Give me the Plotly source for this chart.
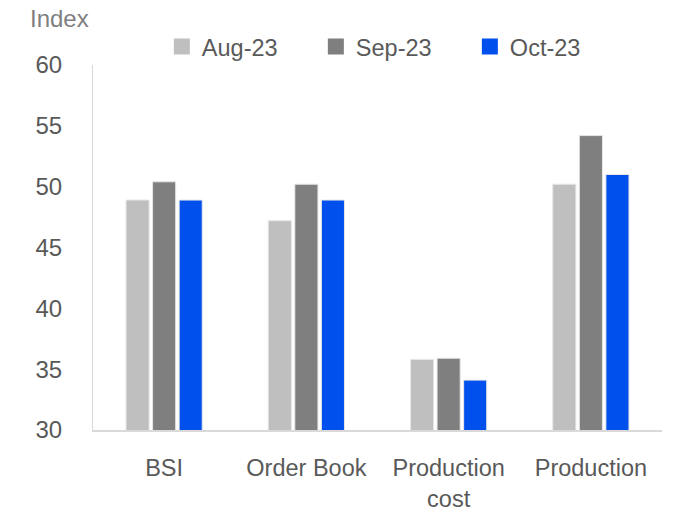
import plotly.graph_objects as go

categories = ["BSI", "Order Book", "Production<br>cost", "Production"]
aug_23 = [48.9, 47.2, 35.8, 50.2]
sep_23 = [50.4, 50.2, 35.9, 54.2]
oct_23 = [48.9, 48.9, 34.1, 51.0]
series_names = ["Aug-23", "Sep-23", "Oct-23"]
colors = ["#BFBFBF", "#7F7F7F", "#0050EE"]

fig = go.Figure()
for name, vals, col in zip(series_names, [aug_23, sep_23, oct_23], colors):
    fig.add_trace(go.Bar(
        x=categories, y=vals, name=name, legendgroup=name, showlegend=False,
        marker=dict(color=col, line=dict(color="#E6E6E6", width=1)),
    ))
# legend entries with larger square markers
for name, col in zip(series_names, colors):
    fig.add_trace(go.Scatter(
        x=[None], y=[None], mode="markers", name=name, legendgroup=name,
        marker=dict(symbol="square", size=16, color=col),
    ))

FONT = "Liberation Sans, Arial, sans-serif"
fig.update_layout(
    width=674, height=512,
    margin=dict(l=93, r=12, t=65, b=82),
    paper_bgcolor="white", plot_bgcolor="white",
    barmode="group", bargap=0.44, bargroupgap=0.13,
    font=dict(family=FONT, size=23, color="#595959"),
    legend=dict(orientation="h", x=0.121, xanchor="left", y=1.05, yanchor="middle",
                entrywidth=109, entrywidthmode="pixels", itemwidth=30,
                font=dict(size=23.5, color="#595959"), bgcolor="rgba(0,0,0,0)"),
    showlegend=True,
)
fig.update_yaxes(range=[30, 60], dtick=5, showgrid=False, zeroline=False,
                 showline=True, linecolor="#D9D9D9", linewidth=1,
                 ticks="", ticklabelstandoff=25, automargin=False,
                 tickfont=dict(size=24, color="#595959"))
fig.update_xaxes(showgrid=False, showline=True, linecolor="#D9D9D9", linewidth=2,
                 ticks="", tickfont=dict(size=23.5, color="#595959"),
                 ticklabelstandoff=16, automargin=False)
fig.add_annotation(text="Index", xref="paper", yref="paper", x=-0.115, y=1.127,
                   xanchor="left", yanchor="middle", showarrow=False,
                   font=dict(size=24, color="#7F7F7F"))
fig.write_html("out.html")
